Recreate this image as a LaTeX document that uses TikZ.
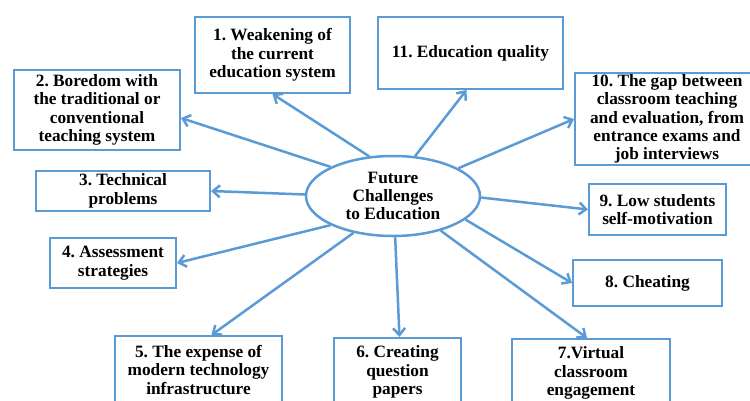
\documentclass[tikz,border=0pt]{standalone}
\usepackage{fontspec}
\setmainfont{Liberation Serif}
\usetikzlibrary{arrows.meta,shapes.geometric}
\definecolor{skyline}{RGB}{91,155,213}
\frenchspacing

\begin{document}
\begin{tikzpicture}[x=1pt,y=-1pt,line width=2pt,skyline,
      every node/.style={text=black,align=center,inner sep=1pt,
        font=\bfseries\fontsize{17.3}{18.4}\selectfont},
      box/.style={draw,rectangle},
      >={Straight Barb[length=7pt,width=12pt]}]
   \useasboundingbox(0,0)rectangle(750,400);
   \node[draw,ellipse,line width=2.5pt,minimum width=174pt,minimum height=80pt](ctr)
     at(393,196){Future\\Challenges\\to Education};
   \node[box,minimum width=155pt,minimum height=76pt](b1)at(272.5,55)
     {1. Weakening of\\the current\\education system};
   \node[box,minimum width=166pt,minimum height=80pt](b2)at(97,110)
     {2. Boredom with\\the traditional or\\conventional\\teaching system};
   \node[box,minimum width=174pt,minimum height=40pt](b3)at(123,191)
     {3. Technical\\problems};
   \node[box,minimum width=126pt,minimum height=50pt](b4)at(113,263)
     {4. Assessment\\strategies};
   \node[box,minimum width=167pt,minimum height=68pt](b5)at(198.5,370)
     {5. The expense of\\modern technology\\infrastructure};
   \node[box,minimum width=127pt,minimum height=68pt](b6)at(397.5,372)
     {6. Creating\\question\\papers};
   \node[box,minimum width=158pt,minimum height=68pt](b7)at(591,373)
     {7.Virtual\\classroom\\engagement};
   \node[box,minimum width=149pt,minimum height=46pt](b8)at(647.5,283)
     {8. Cheating};
   \node[box,minimum width=137pt,minimum height=51pt](b9)at(657.5,209.5)
     {9. Low students\\self-motivation};
   \node[box,minimum width=184pt,minimum height=92pt](b10)at(667,119)
     {10. The gap between\\classroom teaching\\and evaluation, from\\entrance exams and\\job interviews};
   \node[box,minimum width=185pt,minimum height=72pt](b11)at(470.5,53)
     {11. Education quality};
   \draw[->,line width=2.5pt](ctr.121)--(b1.south);
   \draw[->,line width=2.5pt](ctr.155)--([yshift=-8pt]b2.east);
   \draw[->,line width=2.5pt](ctr.179)--(b3.east);
   \draw[->,line width=2.5pt](ctr.205)--(b4.east);
   \draw[->,line width=2.5pt](ctr.223)--([xshift=13pt]b5.north);
   \draw[->,line width=2.5pt](ctr.273)--([xshift=2pt]b6.north);
   \draw[->,line width=2.5pt](ctr.324)--([xshift=-4pt]b7.north);
   \draw[->,line width=2.5pt](ctr.342)--(b8.west);
   \draw[->,line width=2.5pt](ctr.-1)--(b9.west);
   \draw[->,line width=2.5pt](ctr.23)--(b10.west);
   \draw[->,line width=2.5pt](ctr.61)--([xshift=-4pt]b11.south);
\end{tikzpicture}
\end{document}
